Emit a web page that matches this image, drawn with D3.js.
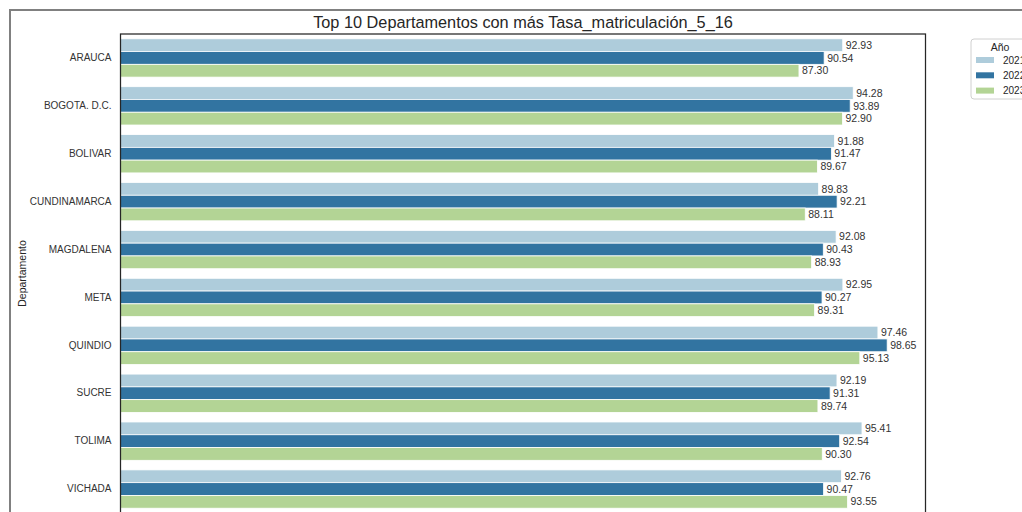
<!DOCTYPE html>
<html>
<head>
<meta charset="utf-8">
<script src="https://cdn.jsdelivr.net/npm/d3@7"></script>
<style>
  body { margin: 0; background: #fff; }
  text { font-family: "Liberation Sans", Arial, sans-serif; }
</style>
</head>
<body>
<svg id="chart" width="1022" height="512"></svg>
<script>
// data
const departamentos = ["ARAUCA", "BOGOTA. D.C.", "BOLIVAR", "CUNDINAMARCA", "MAGDALENA",
    "META", "QUINDIO", "SUCRE", "TOLIMA", "VICHADA"];
const years = ["2021", "2022", "2023"];
const tasa2021 = [92.93, 94.28, 91.88, 89.83, 92.08, 92.95, 97.46, 92.19, 95.41, 92.76];
const tasa2022 = [90.54, 93.89, 91.47, 92.21, 90.43, 90.27, 98.65, 91.31, 92.54, 90.47];
const tasa2023 = [87.30, 92.90, 89.67, 88.11, 88.93, 89.31, 95.13, 89.74, 90.30, 93.55];
const colors = ["#aeccdb", "#3274a1", "#b3d495"];

const series = [tasa2021, tasa2022, tasa2023];
const rows = [];
departamentos.forEach((d, i) => {
    years.forEach((yr, j) => rows.push({ dep: d, year: yr, value: series[j][i] }));
});

const margin = { top: 34, left: 120.5 };
const width = 805;
const height = 479;

const svg = d3.select("#chart");

// outer figure frame (cut off on right/bottom)
svg.append("rect")
    .attr("x", 10).attr("y", 10)
    .attr("width", 1030).attr("height", 520)
    .attr("fill", "none")
    .attr("stroke", "#808080")
    .attr("stroke-width", 2);

const g = svg.append("g")
    .attr("transform", `translate(${margin.left},${margin.top})`);

const maxVal = d3.max(rows, d => d.value);
const x = d3.scaleLinear()
    .domain([0, maxVal * 1.05])
    .range([0, width]);

const y = d3.scaleBand()
    .domain(departamentos)
    .range([0, height])
    .paddingInner(0.2)
    .paddingOuter(0.1);

const yInner = d3.scaleBand()
    .domain(years)
    .range([0, y.bandwidth()]);

const color = d3.scaleOrdinal().domain(years).range(colors);

// bars
g.selectAll("rect.bar")
    .data(rows)
    .enter()
    .append("rect")
    .attr("class", "bar")
    .attr("x", 0)
    .attr("y", d => y(d.dep) + yInner(d.year))
    .attr("width", d => x(d.value))
    .attr("height", yInner.bandwidth())
    .attr("fill", d => color(d.year))
    .attr("stroke", "#fff")
    .attr("stroke-width", 0.8);

// value labels
g.selectAll("text.val")
    .data(rows)
    .enter()
    .append("text")
    .attr("class", "val")
    .attr("x", d => x(d.value) + 3)
    .attr("y", d => y(d.dep) + yInner(d.year) + yInner.bandwidth() / 2)
    .attr("dy", "0.35em")
    .attr("font-size", 10.5)
    .attr("fill", "#333")
    .text(d => d.value.toFixed(2));

// y axis labels
const yAxis = g.append("g")
    .call(d3.axisLeft(y).tickSize(0).tickPadding(9));
yAxis.select(".domain").remove();
yAxis.selectAll("text")
    .attr("font-size", 10)
    .attr("fill", "#333")
    .style("font-family", "Liberation Sans, Arial, sans-serif");

// axes frame
g.append("rect")
    .attr("x", 0).attr("y", 0)
    .attr("width", width).attr("height", height)
    .attr("fill", "none")
    .attr("stroke", "#262626")
    .attr("stroke-width", 1.25);

// title
svg.append("text")
    .attr("x", margin.left + width / 2)
    .attr("y", 28)
    .attr("text-anchor", "middle")
    .attr("font-size", 16.3)
    .attr("fill", "#262626")
    .text("Top 10 Departamentos con más Tasa_matriculación_5_16");

// y label
svg.append("text")
    .attr("transform", `translate(26,${margin.top + height / 2}) rotate(-90)`)
    .attr("text-anchor", "middle")
    .attr("font-size", 10.5)
    .attr("fill", "#262626")
    .text("Departamento");

// legend
const legend = svg.append("g").attr("transform", "translate(971,39)");
legend.append("rect")
    .attr("width", 80).attr("height", 60)
    .attr("rx", 3)
    .attr("fill", "#fff")
    .attr("stroke", "#d0d0d0")
    .attr("stroke-width", 1);
legend.append("text")
    .attr("x", 29).attr("y", 12)
    .attr("text-anchor", "middle")
    .attr("font-size", 10.5)
    .attr("fill", "#262626")
    .text("Año");
years.forEach((yr, i) => {
    legend.append("rect")
        .attr("x", 5).attr("y", 18 + i * 15.3)
        .attr("width", 18).attr("height", 6)
        .attr("fill", color(yr));
    legend.append("text")
        .attr("x", 32).attr("y", 21 + i * 15.3)
        .attr("dy", "0.35em")
        .attr("font-size", 10)
        .attr("fill", "#262626")
        .text(yr);
});
</script>
</body>
</html>
